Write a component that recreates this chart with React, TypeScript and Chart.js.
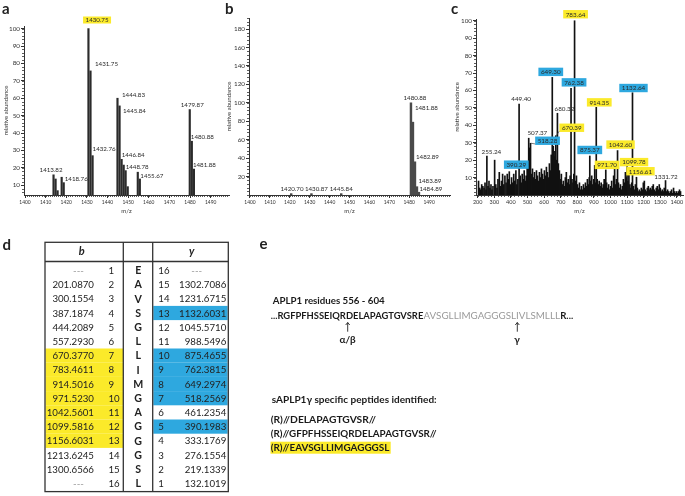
import React, { useEffect, useRef } from "react";
import { Chart, registerables } from "chart.js";
Chart.register(...registerables);

const FONT = "Lato, 'Open Sans', sans-serif";
const YELLOW = "#FBEA2A";
const BLUE = "#2EA8DF";
const INK = "#2a2a2a";

// ---------------- DATA ----------------
// panel a
const aMz = [1413.82, 1414.82, 1415.8, 1417.76, 1418.76, 1430.75, 1431.75, 1432.76, 1444.83, 1445.84, 1446.84, 1447.84, 1448.78, 1449.8, 1454.67, 1455.67, 1479.87, 1480.88, 1481.88];
const aInt = [16, 13.6, 6.9, 14.6, 11.5, 100, 75.7, 27, 60, 55.6, 24.9, 21.6, 18.4, 9.2, 17.5, 13.6, 53.5, 35.3, 19.3];
const aLabelMz = [1413.82, 1418.76, 1430.75, 1431.75, 1432.76, 1444.83, 1445.84, 1446.84, 1448.78, 1455.67, 1479.87, 1480.88, 1481.88];
const aLabelMark = ["", "", "hl", "", "", "", "", "", "", "", "", "", ""];
const aXTicks = [1400, 1410, 1420, 1430, 1440, 1450, 1460, 1470, 1480, 1490];
const aYTicks = [10, 20, 30, 40, 50, 60, 70, 80, 90, 100];

// panel b
const bMz = [1420.7, 1430.87, 1445.84, 1480.88, 1481.88, 1482.89, 1483.89, 1484.89];
const bInt = [1.5, 1.5, 1.5, 100, 79, 36, 9, 3];
const bLabelMz = [1420.7, 1430.87, 1445.84, 1480.88, 1481.88, 1482.89, 1483.89, 1484.89];
const bXTicks = [1400, 1410, 1420, 1430, 1440, 1450, 1460, 1470, 1480, 1490];
const bYTicks = [20, 40, 60, 80, 100, 120, 140, 160, 180];

// panel c
const cMz = [205, 212, 218, 224, 231, 238, 244, 250, 255.24, 262, 268, 274, 280, 286, 292, 302, 309, 316, 322, 330, 337, 343, 350, 357, 364, 371, 378, 384, 390.29, 397, 404, 410, 417, 423, 430, 436, 442, 449.4, 456, 462, 468, 474, 480, 486, 492, 498, 503, 507.37, 512, 518.28, 524, 530, 536, 542, 548, 554, 560, 566, 572, 578, 584, 590, 596, 602, 608, 614, 620, 626, 632, 638, 643, 649.3, 655, 660, 665, 670.39, 675, 680.32, 686, 692, 698, 704, 710, 716, 722, 728, 734, 740, 746, 752, 757, 762.38, 768, 774, 779, 783.64, 789, 795, 801, 807, 813, 819, 825, 831, 837, 843, 849, 855, 861, 867, 872, 875.37, 881, 887, 893, 899, 905, 910, 914.35, 920, 926, 932, 938, 944, 950, 956, 962, 967, 971.7, 977, 983, 989, 995, 1001, 1007, 1013, 1019, 1025, 1031, 1036, 1042.6, 1048, 1054, 1060, 1066, 1072, 1078, 1084, 1090, 1095, 1099.78, 1105, 1111, 1117, 1123, 1128, 1132.64, 1138, 1144, 1150, 1156.61, 1162, 1168, 1174, 1180, 1186, 1192, 1198, 1204, 1210, 1216, 1222, 1228, 1234, 1240, 1246, 1252, 1258, 1264, 1270, 1276, 1282, 1288, 1294, 1300, 1306, 1312, 1318, 1324, 1331.72, 1338, 1344, 1350, 1356, 1362, 1368, 1374, 1380, 1386, 1392, 1398, 1404, 1410, 1416, 1422];
const cInt = [8, 4, 3, 6, 5, 4, 7, 3, 22.4, 5, 8, 4, 6, 3, 5, 20, 6, 4, 9, 13, 5, 8, 12, 6, 11, 7, 12, 9, 13.4, 6, 10, 7, 12, 8, 14, 6, 9, 52.2, 11, 7, 12, 9, 14, 8, 11, 17, 14, 32.6, 27, 29.7, 12, 15, 10, 13, 9, 14, 11, 8, 13, 10, 15, 12, 9, 14, 11, 16, 13, 10, 18, 14, 23, 67.5, 28, 22, 25, 34, 20, 46.9, 18, 14, 9, 12, 6, 8, 5, 10, 13, 7, 9, 6, 11, 61.2, 9, 7, 12, 100, 8, 11, 6, 4, 7, 3, 5, 3, 6, 4, 7, 5, 9, 6, 10, 22.4, 8, 11, 6, 9, 17, 7, 50.3, 9, 6, 8, 5, 7, 4, 6, 9, 5, 14.4, 7, 4, 6, 3, 5, 8, 4, 11, 15, 6, 9, 25.5, 7, 4, 6, 3, 5, 9, 7, 13, 10, 16.3, 8, 14, 6, 4, 7, 58.7, 5, 3, 6, 10.2, 4, 2, 3, 2, 4, 3, 7, 8, 3, 2, 4, 5, 3, 4, 3, 5, 6, 3, 2, 4, 5, 3, 6, 4, 2, 3, 2, 4, 8.3, 2, 3, 2, 1, 2, 3, 1, 4, 2, 1, 2, 1, 2, 3, 2];
const cLabelMz = [783.64, 649.3, 762.38, 1132.64, 449.4, 914.35, 680.32, 670.39, 507.37, 518.28, 255.24, 390.29, 875.37, 1042.6, 971.7, 1099.78, 1156.61, 1331.72];
const cLabelIon = ["b", "y", "y", "y", "", "b", "", "b", "", "y", "", "y", "y", "b", "b", "b", "b", ""];
const cXTicks = [200, 300, 400, 500, 600, 700, 800, 900, 1000, 1100, 1200, 1300, 1400];
const cYTicks = [10, 20, 30, 40, 50, 60, 70, 80, 90, 100];

// panel d table
const tableB = ["---", "201.0870", "300.1554", "387.1874", "444.2089", "557.2930", "670.3770", "783.4611", "914.5016", "971.5230", "1042.5601", "1099.5816", "1156.6031", "1213.6245", "1300.6566", "---"];
const tableRes = ["E", "A", "V", "S", "G", "L", "L", "I", "M", "G", "A", "G", "G", "G", "S", "L"];
const tableY = ["---", "1302.7086", "1231.6715", "1132.6031", "1045.5710", "988.5496", "875.4655", "762.3815", "649.2974", "518.2569", "461.2354", "390.1983", "333.1769", "276.1554", "219.1339", "132.1019"];
const bIonsFound = [7, 8, 9, 10, 11, 12, 13];
const yIonsFound = [13, 10, 9, 8, 7, 5];

// panel e text
const seqBefore = "...RGFPFHSSEIQRDELAPAGTGVSRE";
const seqTM = "AVSGLLIMGAGGGSLIVLSMLLL";
const seqAfter = "R...";
const peptides = ["(R)//DELAPAGTGVSR//", "(R)//GFPFHSSEIQRDELAPAGTGVSR//", "(R)//EAVSGLLIMGAGGGSL"];

// ---------------- LAYOUT (label placement offsets in px, relative to peak top) ----------------
const aPlace: [number, number, string][] = [
  [-2.5, -5.5, "center"], [1, -3.6, "left"], [8.6, -8.6, "center"], [4.5, -6.8, "left"], [0, -6.7, "left"],
  [4.5, -3.5, "left"], [3.4, 5, "left"], [0, -4.3, "left"], [0, -4, "left"], [0.5, -3.3, "left"],
  [2.5, -4.5, "center"], [-1, -5, "left"], [-1, -4.3, "left"],
];
const bPlace: [number, number, string][] = [
  [0.8, -5, "center"], [5, -5, "center"], [0, -5, "center"], [4, -5, "center"], [2, -14, "left"],
  [1, -5.5, "left"], [1.5, -6.4, "left"], [0.5, -4, "left"],
];
const cPlace: [number, number, string, boolean?][] = [
  [1, -6.5, "center"], [-1.5, -5.5, "center"], [3, -6, "center"], [1, -4.7, "center"], [2, -5.7, "center"],
  [3, -5, "center"], [7, -4.5, "center"], [16, -8, "center", true], [8.6, -5.6, "center"], [17, -2.5, "center", true],
  [4.5, -4, "center"], [7, -7, "center"], [0, -6, "center"], [3, -6, "center"], [1.3, -5, "center"],
  [7, -4.5, "center"], [4, -6, "center"], [0.5, -4, "center"],
];

type Lbl = { mz: number; text: string; bg: string | null; dx: number; dy: number; align: string; leader?: boolean };

const decorPlugin = {
  id: "decor",
  afterDatasetsDraw(chart: any, _a: any, opts: any) {
    const { ctx, chartArea: area } = chart;
    const x = chart.scales.x;
    const y = chart.scales.y;
    ctx.save();
    ctx.strokeStyle = "#333";
    ctx.lineWidth = 0.8;
    if (opts.yMinor) {
      for (let v = Math.ceil(y.min / opts.yMinor) * opts.yMinor; v <= y.max; v += opts.yMinor) {
        const py = Math.round(y.getPixelForValue(v)) + 0.5;
        ctx.beginPath();
        ctx.moveTo(area.left - 2, py);
        ctx.lineTo(area.left, py);
        ctx.stroke();
      }
    }
    if (opts.xMinor) {
      for (let v = Math.ceil(x.min / opts.xMinor) * opts.xMinor; v <= x.max; v += opts.xMinor) {
        const px = Math.round(x.getPixelForValue(v)) + 0.5;
        ctx.beginPath();
        ctx.moveTo(px, area.bottom);
        ctx.lineTo(px, area.bottom + 2);
        ctx.stroke();
      }
    }
    const data = chart.data.datasets[0].data;
    ctx.font = `${opts.labelSize}px ${FONT}`;
    ctx.textBaseline = "middle";
    (opts.labels as Lbl[]).forEach((l) => {
      const pt = data.find((d: any) => d.x === l.mz);
      if (!pt) return;
      const px = x.getPixelForValue(pt.x);
      const py = y.getPixelForValue(pt.y);
      const w = ctx.measureText(l.text).width;
      const cx = l.align === "center" ? px + l.dx : px + l.dx + w / 2;
      const cy = py + l.dy;
      if (l.bg) {
        const bw = w + 5;
        const bh = opts.boxH;
        if (l.leader) {
          ctx.strokeStyle = "#444";
          ctx.lineWidth = 0.7;
          ctx.beginPath();
          ctx.moveTo(px + 0.5, py);
          ctx.lineTo(cx - bw / 2, cy + bh / 2 - 1);
          ctx.stroke();
        }
        ctx.fillStyle = l.bg;
        ctx.fillRect(cx - bw / 2, cy - bh / 2, bw, bh);
      }
      ctx.fillStyle = INK;
      ctx.textAlign = "center";
      ctx.fillText(l.text, cx, cy + 0.3);
    });
    ctx.restore();
  },
};

function buildLabels(mzs: number[], marks: string[], place: any[]): Lbl[] {
  return mzs.map((mz, i) => ({
    mz,
    text: mz.toFixed(2),
    bg: marks[i] === "b" || marks[i] === "hl" ? YELLOW : marks[i] === "y" ? BLUE : null,
    dx: place[i][0],
    dy: place[i][1],
    align: place[i][2],
    leader: place[i][3],
  }));
}

function spectrumConfig(p: any) {
  return {
    type: "bar",
    data: {
      datasets: [
        {
          data: p.mz.map((m: number, i: number) => ({ x: m, y: p.inten[i] })),
          backgroundColor: p.barColor,
          barThickness: p.barThickness,
          borderWidth: 0,
        },
      ],
    },
    plugins: [decorPlugin],
    options: {
      responsive: false,
      animation: false,
      devicePixelRatio: 1,
      events: [],
      layout: { padding: { top: p.padTop, right: p.padRight, left: 0, bottom: 0 }, autoPadding: false },
      plugins: {
        legend: { display: false },
        tooltip: { enabled: false },
        decor: { yMinor: p.yMinor, xMinor: p.xMinor, labels: p.labels, labelSize: p.labelSize, boxH: p.boxH },
      },
      scales: {
        x: {
          type: "linear",
          min: p.xMin,
          max: p.xMax,
          offset: false,
          afterFit: (s: any) => { s.height = p.xHeight; },
          afterBuildTicks: (s: any) => { s.ticks = p.xTicks.map((v: number) => ({ value: v })); },
          grid: { display: true, offset: false, drawOnChartArea: false, tickLength: 3, color: "#333", lineWidth: 1 },
          border: { display: true, color: "#333", width: 1 },
          ticks: { autoSkip: false, maxRotation: 0, padding: 1, color: "#333", font: { family: FONT, size: p.xTickSize }, callback: (v: any) => String(v) },
          title: { display: true, text: "m/z", color: "#333", font: { family: FONT, size: 6 }, padding: { top: 0, bottom: 0.7 } },
        },
        y: {
          type: "linear",
          min: p.yMin,
          max: p.yMax,
          afterFit: (s: any) => { s.width = p.yWidth; },
          afterBuildTicks: (s: any) => { s.ticks = p.yTicks.map((v: number) => ({ value: v })); },
          grid: { display: true, drawOnChartArea: false, tickLength: 3, color: "#333", lineWidth: 1 },
          border: { display: true, color: "#333", width: 1 },
          ticks: { autoSkip: false, padding: 1, color: "#333", font: { family: FONT, size: 6.3 }, callback: (v: any) => String(v) },
          title: { display: true, text: "relative abundance", color: "#333", font: { family: FONT, size: 6 }, padding: { top: p.yTitlePad, bottom: 0 } },
        },
      },
    },
  };
}

function Spectrum({ left, width, height, cfg }: any) {
  const ref = useRef<HTMLCanvasElement>(null);
  useEffect(() => {
    const chart = new Chart(ref.current as HTMLCanvasElement, cfg as any);
    return () => chart.destroy();
  }, []);
  return (
    <canvas
      ref={ref}
      width={width}
      height={height}
      style={{ position: "absolute", left, top: 0, width, height }}
    />
  );
}

const cfgA = spectrumConfig({
  mz: aMz, inten: aInt, xMin: 1399.5, xMax: 1498.9, yMin: 4.4, yMax: 101.5,
  xTicks: aXTicks, yTicks: aYTicks, padTop: 26, padRight: 3, yWidth: 24, xHeight: 20, yTitlePad: 2.2,
  barColor: "#2b2b2b", barThickness: 1.5, xMinor: 1, yMinor: 2,
  labels: buildLabels(aLabelMz, aLabelMark, aPlace), labelSize: 6.2, boxH: 7, xTickSize: 4.9,
});
const cfgB = spectrumConfig({
  mz: bMz, inten: bInt, xMin: 1399.5, xMax: 1500.5, yMin: 0, yMax: 192,
  xTicks: bXTicks, yTicks: bYTicks, padTop: 18, padRight: 3, yWidth: 24, xHeight: 20, yTitlePad: 0.4,
  barColor: "#4a4a4a", barThickness: 1.8, xMinor: 1, yMinor: 4,
  labels: buildLabels(bLabelMz, bLabelMz.map(() => ""), bPlace), labelSize: 6.2, boxH: 7, xTickSize: 4.9,
});
const cfgC = spectrumConfig({
  mz: cMz, inten: cInt, xMin: 189.7, xMax: 1437, yMin: 0, yMax: 101,
  xTicks: cXTicks, yTicks: cYTicks, padTop: 19, padRight: 2, yWidth: 24, xHeight: 20, yTitlePad: 1,
  barColor: "#111", barThickness: 1, xMinor: 20, yMinor: 2,
  labels: buildLabels(cLabelMz, cLabelIon, cPlace), labelSize: 6.3, boxH: 8.4, xTickSize: 5.5,
});

function Arrow({ x, y1, y2 }: { x: number; y1: number; y2: number }) {
  return (
    <g stroke="#222" strokeWidth={0.9} fill="none">
      <line x1={x} y1={y1} x2={x} y2={y2} />
      <polyline points={`${x - 2},${y2 + 2.5} ${x},${y2} ${x + 2},${y2 + 2.5}`} />
    </g>
  );
}

function Overlay() {
  const rowC = (i: number) => 270.4 + i * 14.2;
  return (
    <svg
      width={685}
      height={496}
      style={{ position: "absolute", left: 0, top: 0, pointerEvents: "none" }}
      fontFamily={FONT}
    >
      <g fontSize={15} fontWeight={700} fill="#222">
        <text x={2} y={13.5}>a</text>
        <text x={225} y={14}>b</text>
        <text x={451} y={13.5}>c</text>
        <text x={2.5} y={250}>d</text>
        <text x={259.5} y={248.5}>e</text>
      </g>

      {/* table */}
      {tableB.map((_, i) =>
        bIonsFound.includes(i + 1) ? (
          <rect key={"yb" + i} x={45.5} y={rowC(i) - 7.1} width={77.5} height={14.2} fill={YELLOW} />
        ) : null
      )}
      {tableY.map((_, i) =>
        yIonsFound.includes(16 - i) ? (
          <rect key={"bl" + i} x={153.3} y={rowC(i) - 7.1} width={74.3} height={14.2} fill={BLUE} />
        ) : null
      )}
      <g stroke="#333" strokeWidth={1.3} fill="none">
        <rect x={45} y={242.3} width={183.3} height={249.3} />
        <line x1={123.3} y1={242.3} x2={123.3} y2={491.6} />
        <line x1={152.7} y1={242.3} x2={152.7} y2={491.6} />
        <line x1={45} y1={261.5} x2={228.3} y2={261.5} />
      </g>
      <g fontSize={11} fontWeight={700} fontStyle="italic" fill="#222" textAnchor="middle">
        <text x={81.7} y={255}>b</text>
        <text x={191.7} y={254.5}>y</text>
      </g>
      <g fontSize={9.7} fill="#222">
        {tableB.map((v, i) => (
          <text key={"b" + i} x={v === "---" ? 78.5 : 94} y={rowC(i) + 3.5} textAnchor={v === "---" ? "middle" : "end"} fill={v === "---" ? "#999" : "#222"}>
            {v}
          </text>
        ))}
        {tableB.map((_, i) => (
          <text key={"bi" + i} x={108.5} y={rowC(i) + 3.5}>{i + 1}</text>
        ))}
        {tableY.map((_, i) => (
          <text key={"yi" + i} x={158.3} y={rowC(i) + 3.5}>{16 - i}</text>
        ))}
        {tableY.map((v, i) => (
          <text key={"yv" + i} x={v === "---" ? 196.7 : 226.3} y={rowC(i) + 3.5} textAnchor={v === "---" ? "middle" : "end"} fill={v === "---" ? "#999" : "#222"}>
            {v}
          </text>
        ))}
      </g>
      <g fontSize={10.6} fontWeight={700} fill="#222" textAnchor="middle">
        {tableRes.map((r, i) => (
          <text key={"r" + i} x={138.2} y={rowC(i) + 3.8}>{r}</text>
        ))}
      </g>

      {/* panel e */}
      <g fontSize={10} fontWeight={700} fill="#1a1a1a">
        <text x={272.7} y={303.5} textLength={112} lengthAdjust="spacingAndGlyphs">APLP1 residues 556 - 604</text>
        <text x={270.7} y={318.5} textLength={152.6} lengthAdjust="spacingAndGlyphs">{seqBefore}</text>
        <text x={423.5} y={318.5} textLength={136.5} lengthAdjust="spacingAndGlyphs" fill="#9a9a9a" fontWeight={400}>{seqTM}</text>
        <text x={560.2} y={318.5} textLength={13} lengthAdjust="spacingAndGlyphs">{seqAfter}</text>
        <text x={347.7} y={343.3} textAnchor="middle">α/β</text>
        <text x={517} y={342.5} textAnchor="middle">γ</text>
        <text x={271.7} y={402.7} textLength={165} lengthAdjust="spacingAndGlyphs">sAPLP1γ specific peptides identified:</text>
        <rect x={270.5} y={441.7} width={120.2} height={12} fill={YELLOW} />
        <text x={270.7} y={423.3} textLength={105.3} lengthAdjust="spacingAndGlyphs">{peptides[0]}</text>
        <text x={270.7} y={437.3} textLength={166} lengthAdjust="spacingAndGlyphs">{peptides[1]}</text>
        <text x={270.7} y={450.7} textLength={118.7} lengthAdjust="spacingAndGlyphs">{peptides[2]}</text>
      </g>
      <Arrow x={347.7} y1={331.7} y2={322.5} />
      <Arrow x={517.3} y1={331.7} y2={322.5} />
    </svg>
  );
}

export default function App() {
  return (
    <div style={{ position: "absolute", left: 0, top: 0, width: 685, height: 496, background: "#fff", overflow: "hidden" }}>
      <Spectrum left={0} width={232} height={215} cfg={cfgA} />
      <Spectrum left={225} width={228} height={215} cfg={cfgB} />
      <Spectrum left={452} width={233} height={215} cfg={cfgC} />
      <Overlay />
    </div>
  );
}
